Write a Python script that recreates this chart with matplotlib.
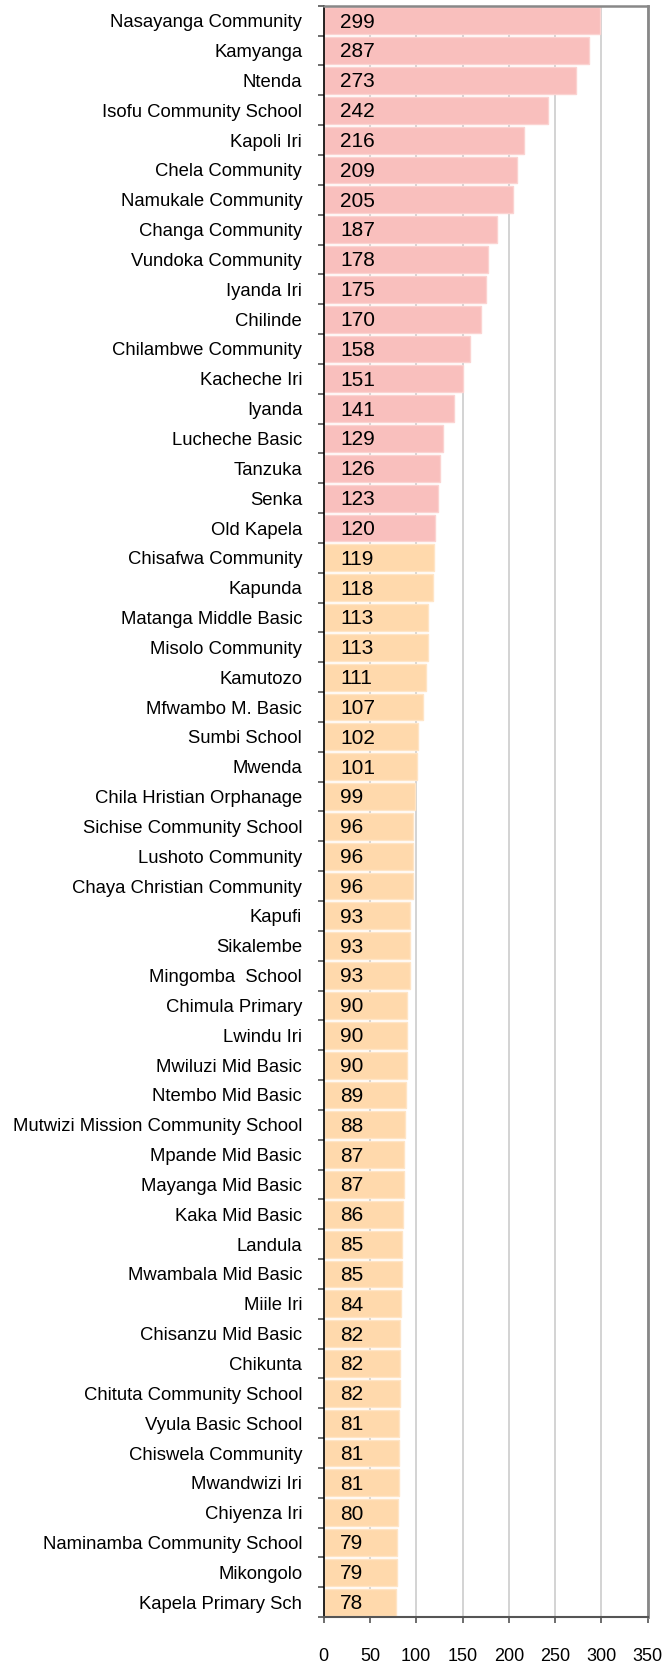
import matplotlib
matplotlib.use("Agg")
import matplotlib.pyplot as plt

plt.rcParams['font.family'] = ['Liberation Sans', 'DejaVu Sans']

schools = ["Nasayanga Community", "Kamyanga", "Ntenda", "Isofu Community School", "Kapoli Iri",
           "Chela Community", "Namukale Community", "Changa Community", "Vundoka Community",
           "Iyanda Iri", "Chilinde", "Chilambwe Community", "Kacheche Iri", "Iyanda",
           "Lucheche Basic", "Tanzuka", "Senka", "Old Kapela", "Chisafwa Community", "Kapunda",
           "Matanga Middle Basic", "Misolo Community", "Kamutozo", "Mfwambo M. Basic",
           "Sumbi School", "Mwenda", "Chila Hristian Orphanage", "Sichise Community School",
           "Lushoto Community", "Chaya Christian Community", "Kapufi", "Sikalembe",
           "Mingomba  School", "Chimula Primary", "Lwindu Iri", "Mwiluzi Mid Basic",
           "Ntembo Mid Basic", "Mutwizi Mission Community School", "Mpande Mid Basic",
           "Mayanga Mid Basic", "Kaka Mid Basic", "Landula", "Mwambala Mid Basic", "Miile Iri",
           "Chisanzu Mid Basic", "Chikunta", "Chituta Community School", "Vyula Basic School",
           "Chiswela Community", "Mwandwizi Iri", "Chiyenza Iri", "Naminamba Community School",
           "Mikongolo", "Kapela Primary Sch"]
values = [299, 287, 273, 242, 216, 209, 205, 187, 178, 175, 170, 158, 151, 141, 129, 126, 123,
          120, 119, 118, 113, 113, 111, 107, 102, 101, 99, 96, 96, 96, 93, 93, 93, 90, 90, 90,
          89, 88, 87, 87, 86, 85, 85, 84, 82, 82, 82, 81, 81, 81, 80, 79, 79, 78]
x_ticks = [0, 50, 100, 150, 200, 250, 300, 350]

pink = "#F9BFBD"
peach = "#FFD9AC"
colors = [pink if v >= 120 else peach for v in values]
edges = ["#FBD3D1" if v >= 120 else "#FFE5C6" for v in values]

fig = plt.figure(figsize=(6.66, 16.62), dpi=100)
ax = fig.add_axes([0.486, 0.027, 0.4865, 0.9695])

pos = list(range(len(schools)))
ax.barh(pos, values, height=0.9, color=colors, edgecolor=edges, linewidth=1.0, zorder=2)

for p, v in zip(pos, values):
    ax.annotate(str(v), xy=(0, p), xytext=(12, -1), textcoords="offset points",
                ha="left", va="center", fontsize=15, color="black", zorder=3)

ax.set_xlim(0, 350)
ax.set_ylim(len(schools) - 0.5, -0.5)
ax.set_xticks(x_ticks)
ax.set_xticklabels([str(t) for t in x_ticks], fontsize=13)
ax.tick_params(axis="x", direction="out", length=4, width=1.2, color="#555555", pad=18)

# category labels sit between boundary ticks
ax.set_yticks(pos)
ax.set_yticklabels(schools, fontsize=13.3)
ax.tick_params(axis="y", length=0, pad=15.5)
ax.set_yticks([p + 0.5 for p in range(-1, len(schools))], minor=True)
ax.tick_params(axis="y", which="minor", direction="out", length=4, width=1.2, color="#555555")

ax.grid(axis="x", color="#D0D0D0", linewidth=1.3, zorder=0)
ax.set_axisbelow(True)

ax.spines["left"].set_color("black")
ax.spines["left"].set_linewidth(1.2)
ax.spines["bottom"].set_color("#555555")
ax.spines["bottom"].set_linewidth(1.5)
ax.spines["top"].set_color("#888888")
ax.spines["top"].set_linewidth(1.8)
ax.spines["right"].set_color("#888888")
ax.spines["right"].set_linewidth(2)

fig.savefig("out.png", dpi=100)
